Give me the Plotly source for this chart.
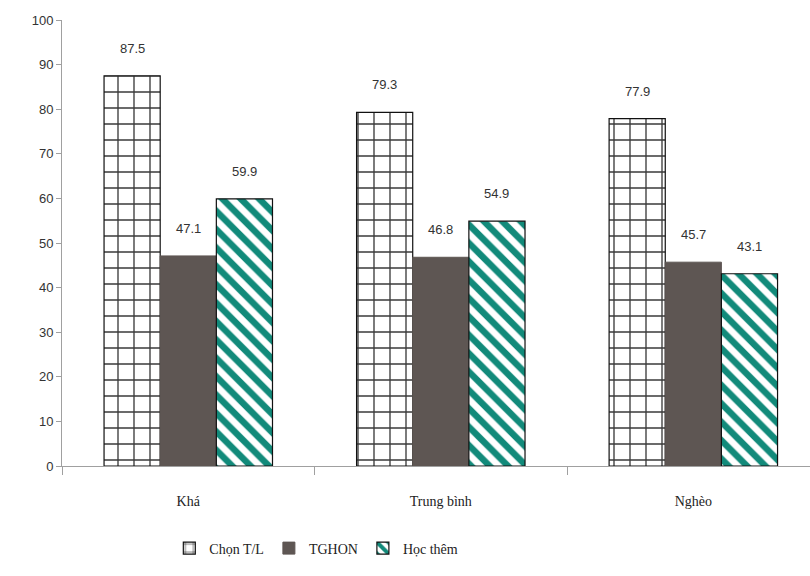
import plotly.graph_objects as go

# Nhóm hộ gia đình theo mức sống
categories = ["Khá", "Trung bình", "Nghèo"]

# Tỷ lệ (%) theo từng chỉ tiêu
chon_tl = [87.5, 79.3, 77.9]
tghon = [47.1, 46.8, 45.7]
hoc_them = [59.9, 54.9, 43.1]

series = [
    ("Chọn T/L", chon_tl,
     dict(color="white",
          line=dict(color="#111111", width=1.2),
          pattern=dict(shape="+", fgcolor="#3a3a3a", bgcolor="white", fgopacity=1,
                       size=16, solidity=0.16))),
    ("TGHON", tghon,
     dict(color="#5e5653", line=dict(color="#5e5653", width=1))),
    ("Học thêm", hoc_them,
     dict(color="white",
          line=dict(color="#111111", width=1.2),
          pattern=dict(shape="\\", fgcolor="#128a7a", bgcolor="white", fgopacity=1,
                       size=13, solidity=0.5))),
]

fig = go.Figure()
for name, vals, marker in series:
    fig.add_trace(go.Bar(x=categories, y=vals, name=name, marker=marker))

# Nhãn giá trị phía trên mỗi cột
bar_px = 56
for i, (name, vals, _) in enumerate(series):
    for cat, v in zip(categories, vals):
        fig.add_annotation(
            x=cat, y=v, text=f"{v:.1f}", showarrow=False,
            xshift=(i - 1) * bar_px, yshift=18, yanchor="bottom",
            font=dict(family="Liberation Sans, Arial", size=13, color="#333333"),
        )

fig.update_layout(
    width=810, height=576,
    margin=dict(l=62, r=0, t=20, b=110),
    paper_bgcolor="white", plot_bgcolor="white",
    barmode="group", bargap=0.333, bargroupgap=0,
    showlegend=True,
    legend=dict(orientation="h", x=0.34, xanchor="center", y=-0.185, yanchor="middle",
                font=dict(family="Liberation Serif, Times New Roman", size=14, color="#222222"),
                itemwidth=30, tracegroupgap=0),
    xaxis=dict(
        range=[-0.5, 2.462], showline=True, linecolor="#a0a0a0", linewidth=1,
        ticks="outside", tickson="boundaries", ticklen=8, tickcolor="#a0a0a0",
        ticklabelstandoff=22,
        tickfont=dict(family="Liberation Serif, Times New Roman", size=14, color="#222222"),
        showgrid=False, zeroline=False,
    ),
    yaxis=dict(
        range=[0, 100], dtick=10, showline=True, linecolor="#a0a0a0", linewidth=1,
        ticks="outside", ticklen=5, tickcolor="#a0a0a0",
        tickfont=dict(family="Liberation Sans, Arial", size=13, color="#333333"),
        showgrid=False, zeroline=False,
    ),
)

fig.write_html("out.html")
